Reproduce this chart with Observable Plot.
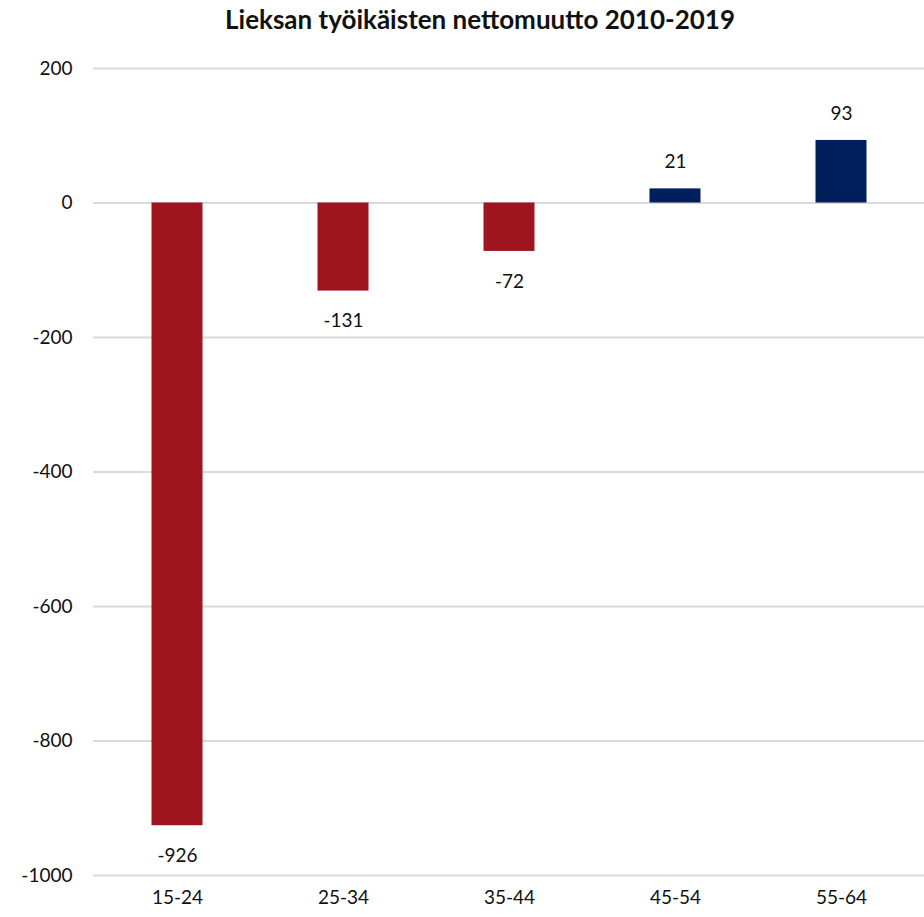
<!DOCTYPE html>
<html>
<head>
<meta charset="utf-8">
<script src="https://cdn.jsdelivr.net/npm/d3@7"></script>
<script src="https://cdn.jsdelivr.net/npm/@observablehq/plot@0.6"></script>
<style>
  body { margin: 0; background: #fff; font-family: Lato, "Open Sans", sans-serif; }
  #title { height: 40px; line-height: 38px; text-align: center; font-weight: bold; font-size: 26px; color: #111; padding-left: 36px; }
</style>
</head>
<body>
<div id="title">Lieksan työikäisten nettomuutto 2010-2019</div>
<div id="chart"></div>
<script>
const categories = ["15-24", "25-34", "35-44", "45-54", "55-64"];
const values = [-926, -131, -72, 21, 93];
const yTicks = [200, 0, -200, -400, -600, -800, -1000];

const data = categories.map((c, i) => ({ group: c, value: values[i] }));
const fmt = d => String(d);

const chart = Plot.plot({
  width: 924,
  height: 877,
  marginLeft: 93,
  marginRight: 0,
  marginTop: 28,
  marginBottom: 42,
  style: { fontFamily: "Lato, 'Open Sans', sans-serif", fontSize: "19px", color: "#111", background: "#fff" },
  x: { domain: categories, padding: 0, label: null },
  y: { domain: [-1000, 200], label: null },
  marks: [
    Plot.ruleY(yTicks, { stroke: "#d9d9d9", strokeWidth: 2 }),
    Plot.barY(data, {
      x: "group", y: "value",
      fill: d => d.value < 0 ? "#9E1520" : "#001F5B",
      insetLeft: 57.5, insetRight: 57.5
    }),
    Plot.text(data.filter(d => d.value < 0), {
      x: "group", y: "value", text: d => fmt(d.value), dy: 30, fill: "#111", fontSize: 19
    }),
    Plot.text(data.filter(d => d.value >= 0), {
      x: "group", y: "value", text: d => fmt(d.value), dy: -27, fill: "#111", fontSize: 19
    }),
    Plot.axisY({ ticks: yTicks, tickFormat: fmt, tickSize: 0, tickPadding: 21, label: null, fontSize: 19 }),
    Plot.axisX({ tickSize: 0, tickPadding: 15, label: null, fontSize: 19 })
  ]
});
document.getElementById("chart").appendChild(chart);
</script>
</body>
</html>
